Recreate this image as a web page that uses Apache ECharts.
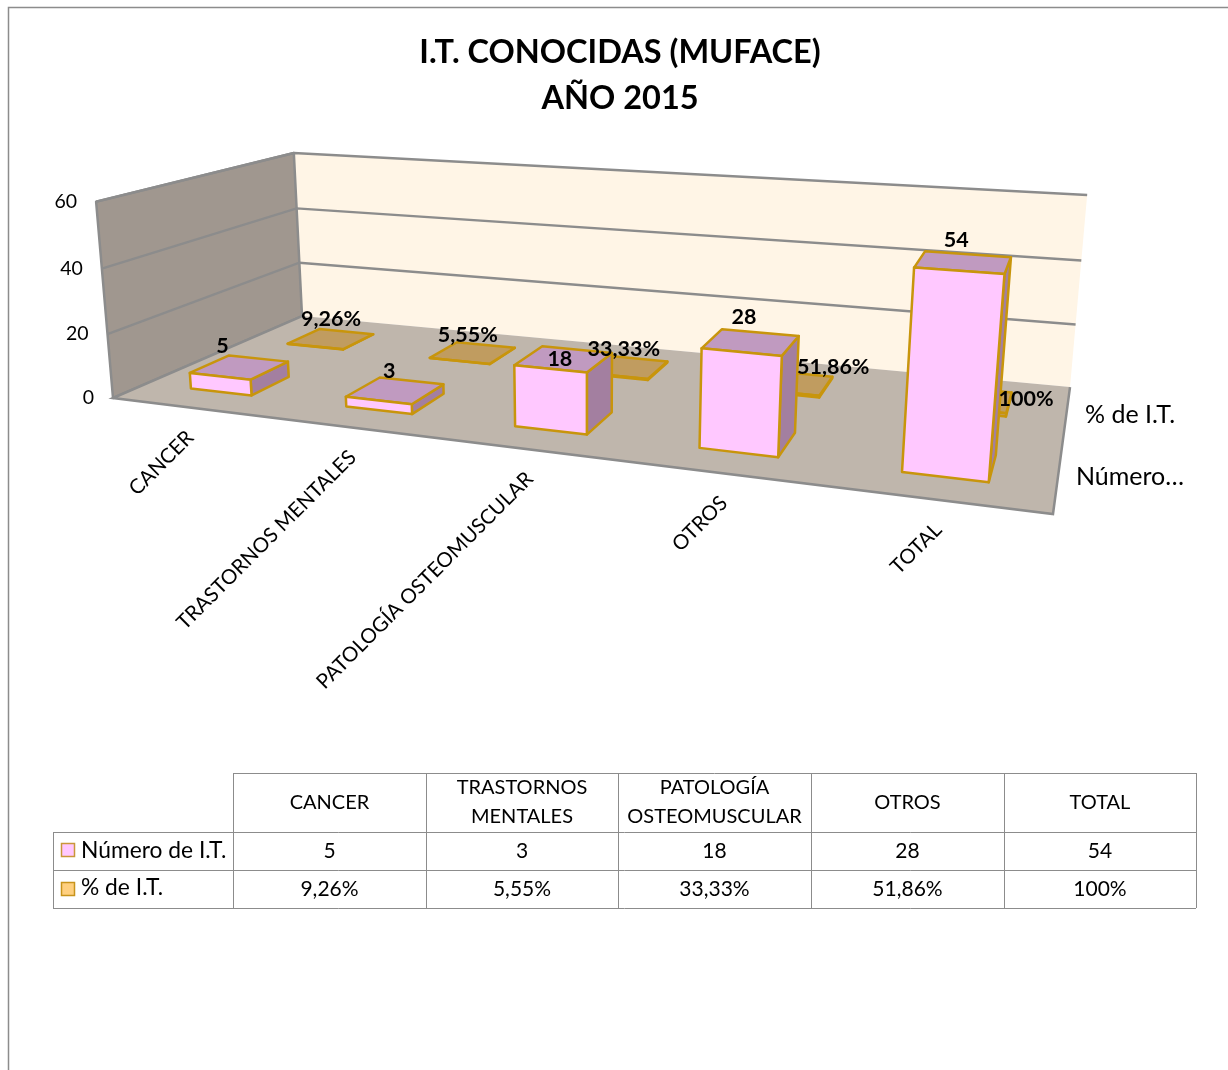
<!DOCTYPE html>
<html><head><meta charset="utf-8">
<style>html,body{margin:0;padding:0;background:#fff}#c{width:1228px;height:1070px}</style>
<script src="https://cdn.jsdelivr.net/npm/echarts@6/dist/echarts.min.js"></script>
</head><body><div id="c"></div>
<script>
var categories = ['CANCER','TRASTORNOS MENTALES','PATOLOGÍA OSTEOMUSCULAR','OTROS','TOTAL'];
var numeroValues = [5,3,18,28,54];
var pctValues = [0.0926,0.0555,0.3333,0.5186,1];
var pctLabels = ['9,26%','5,55%','33,33%','51,86%','100%'];
var yTicks = [0,20,40,60];
var seriesNames = ['Número de I.T.','% de I.T.'];

// perspective camera: (u across, Y up, v into the page), each 0..1
var CAM = {a:701.7,b:258.2,e:-20.2,c:113, d:-0.3,f:-9.6,m:-203.25,k:398, g:-0.2263,h:0.229,n:-0.0344, s:20, q:4, r:2.4};
function project(u,Y,v){
  var w = 1+CAM.g*u+CAM.h*v+CAM.n*Y;
  return [(CAM.a*u+CAM.b*v+CAM.e*Y+CAM.c+CAM.s*(1-0.4*v)*u*(1-u))/w,
          (CAM.d*u+CAM.f*v+CAM.m*Y+CAM.k+Y*(CAM.q*u-CAM.r*v*(1-u)))/w];
}
var FONT='Lato';
var STROKE='#C8950C', LINE='#8C8C8C';
var laneFront=[0.15,0.345], laneBack=[0.665,0.86];
var barHalf=0.2; // of a band
var numNudge=[[-17,-21],[-6,-19],[-4,0],[-7,-25.5],[-7,-22]];
var pctNudge=[[0,-20],[-5,-18],[-2,-18],[42,-16],[55,0]];

function norm(api,params,cat,val){
  var cs=params.coordSys, p=api.coord([cat,val]);
  return {u:(p[0]-cs.x)/cs.width, Y:(cs.y+cs.height-p[1])/cs.height, du:barHalf*api.size([1,0])[0]/cs.width};
}
function poly(pts,fill,stroke,sw){
  return {type:'polygon',shape:{points:pts},style:{fill:fill,stroke:stroke,lineWidth:sw,lineJoin:'round'}};
}
function boxItem(lane,cols){
  return function(params,api){
    var n=norm(api,params,api.value(0),api.value(1));
    var u0=n.u-n.du,u1=n.u+n.du,v0=lane[0],v1=lane[1],Y=n.Y;
    return {type:'group',children:[
      poly([project(u1,0,v0),project(u1,0,v1),project(u1,Y,v1),project(u1,Y,v0)],cols.side,STROKE,2.5),
      poly([project(u0,Y,v0),project(u1,Y,v0),project(u1,Y,v1),project(u0,Y,v1)],cols.top,STROKE,2.5),
      poly([project(u0,0,v0),project(u1,0,v0),project(u1,Y,v0),project(u0,Y,v0)],cols.front,STROKE,2.5)
    ]};
  };
}
function labelItem(lane,texts,nudge){
  return function(params,api){
    var i=api.value(0), n=norm(api,params,i,api.value(1));
    var p=project(n.u,n.Y,(lane[0]+lane[1])/2);
    return {type:'text',x:p[0]+nudge[i][0],y:p[1]+nudge[i][1],
      style:{text:texts[i],align:'center',verticalAlign:'middle',fill:'#000',font:'bold 21.5px '+FONT}};
  };
}
function pairs(vals){return vals.map(function(v,i){return [i,v];});}

var chart=echarts.init(document.getElementById('c'),null,{renderer:'canvas'});
var gfx=[];
gfx.push({type:'rect',shape:{x:8.5,y:7.5,width:1260,height:1100},style:{fill:'#fff',stroke:LINE,lineWidth:1.5},z:-10});
// data table
var colX=[233,426,618,811,1004,1196], rowY=[773,832,870,908], tableLeft=53;
function hl(x0,x1,y){gfx.push({type:'line',shape:{x1:x0,y1:y+.5,x2:x1,y2:y+.5},style:{stroke:LINE,lineWidth:1}});}
function vl(x,y0,y1){gfx.push({type:'line',shape:{x1:x+.5,y1:y0,x2:x+.5,y2:y1},style:{stroke:LINE,lineWidth:1}});}
hl(colX[0],colX[5],rowY[0]); rowY.slice(1).forEach(function(y){hl(tableLeft,colX[5],y);});
colX.forEach(function(x){vl(x,rowY[0],rowY[3]);}); vl(tableLeft,rowY[1],rowY[3]);
function txt(x,y,t,align,size,lh){gfx.push({type:'text',x:x,y:y,style:{text:t,align:align||'center',verticalAlign:'middle',fill:'#000',font:(size||20)+'px '+FONT,lineHeight:lh||24}});}
categories.forEach(function(c,i){
  var cx=(colX[i]+colX[i+1])/2;
  txt(cx,(rowY[0]+rowY[1])/2,c.replace(' ','\n'),'center',20,29);
  txt(cx,(rowY[1]+rowY[2])/2+.5,String(numeroValues[i]),'center',21);
  txt(cx,(rowY[2]+rowY[3])/2+.5,pctLabels[i],'center',21);
});
txt(81,851,seriesNames[0],'left',22.8); txt(81,888,seriesNames[1],'left',22.8);
gfx.push({type:'rect',shape:{x:61.5,y:843.5,width:13,height:13},style:{fill:'#FFC8FF',stroke:'#C9963A',lineWidth:1.5}});
gfx.push({type:'rect',shape:{x:61.5,y:882.5,width:13,height:13},style:{fill:'#FFD080',stroke:'#C8941C',lineWidth:1.5}});
// depth-axis labels
txt(1130,415,seriesNames[1],'center',25); txt(1130,477,'Número…','center',25);

chart.setOption({
  animation:false,
  backgroundColor:'#fff',
  title:{text:'I.T. CONOCIDAS (MUFACE)\nAÑO 2015',left:615,top:25,textAlign:'center',
    textStyle:{fontFamily:FONT,fontWeight:'bold',fontSize:32.5,lineHeight:46,color:'#000'}},
  grid:{left:100,right:100,top:100,bottom:100},
  xAxis:{type:'category',data:categories,show:false},
  yAxis:{type:'value',min:0,max:60,interval:20,show:false},
  graphic:gfx,
  series:[
    {type:'custom',name:'walls',z:1,silent:true,data:[[0,0]],renderItem:function(){
      return {type:'group',children:[
        {type:'polygon',shape:{points:[project(0,0,1),project(1,0,1),project(1,1,1),project(0,1,1)]},style:{fill:'#FFF5E6',stroke:LINE,lineWidth:0}},
        poly([project(0,0,0),project(0,0,1),project(0,1,1),project(0,1,0)],'#A0978F',LINE,2.5),
        poly([project(0,0,0),project(1,0,0),project(1,0,1),project(0,0,1)],'#BFB6AC',LINE,0),
        {type:'polyline',shape:{points:[project(0,0,1),project(0,0,0),project(1,0,0),project(1,0,1)]},style:{fill:'none',stroke:LINE,lineWidth:2.5}}
      ]};
    }},
    {type:'custom',name:'grid',z:2,silent:true,data:yTicks.map(function(t){return [0,t];}),renderItem:function(params,api){
      var n=norm(api,params,0,api.value(1)), Y=n.Y, pL=project(0,Y,0), pB=project(0,Y,1), pR=project(1,Y,1);
      var kids=[{type:'text',x:pL[0]-19,y:pL[1],style:{text:String(api.value(1)),align:'right',verticalAlign:'middle',fill:'#000',font:'19.5px '+FONT}}];
      if(api.value(1)>0) kids.push({type:'polyline',shape:{points:[pL,pB,pR]},style:{fill:'none',stroke:LINE,lineWidth:2.4}});
      return {type:'group',children:kids};
    }},
    {type:'custom',name:seriesNames[1],z:3,silent:true,data:pairs(pctValues),renderItem:boxItem(laneBack,{front:'#C09C60',top:'#C09C60',side:'#C09C60'})},
    {type:'custom',name:seriesNames[0],z:4,silent:true,data:pairs(numeroValues),renderItem:boxItem(laneFront,{front:'#FFC8FF',top:'#C09AC0',side:'#A37FA0'})},
    {type:'custom',name:'catLabels',z:5,silent:true,data:categories.map(function(c,i){return [i,0];}),renderItem:function(params,api){
      var i=api.value(0), n=norm(api,params,i,0), p=project(n.u,0,0);
      return {type:'text',x:p[0]+1,y:p[1]+27,rotation:Math.PI/4,style:{text:categories[i],align:'right',verticalAlign:'middle',fill:'#000',font:'20.5px '+FONT}};
    }},
    {type:'custom',name:'pctLabels',z:6,silent:true,data:pairs(pctValues),renderItem:labelItem(laneBack,pctLabels,pctNudge)},
    {type:'custom',name:'numLabels',z:6,silent:true,data:pairs(numeroValues),renderItem:labelItem(laneFront,numeroValues.map(String),numNudge)}
  ]
});
</script></body></html>
